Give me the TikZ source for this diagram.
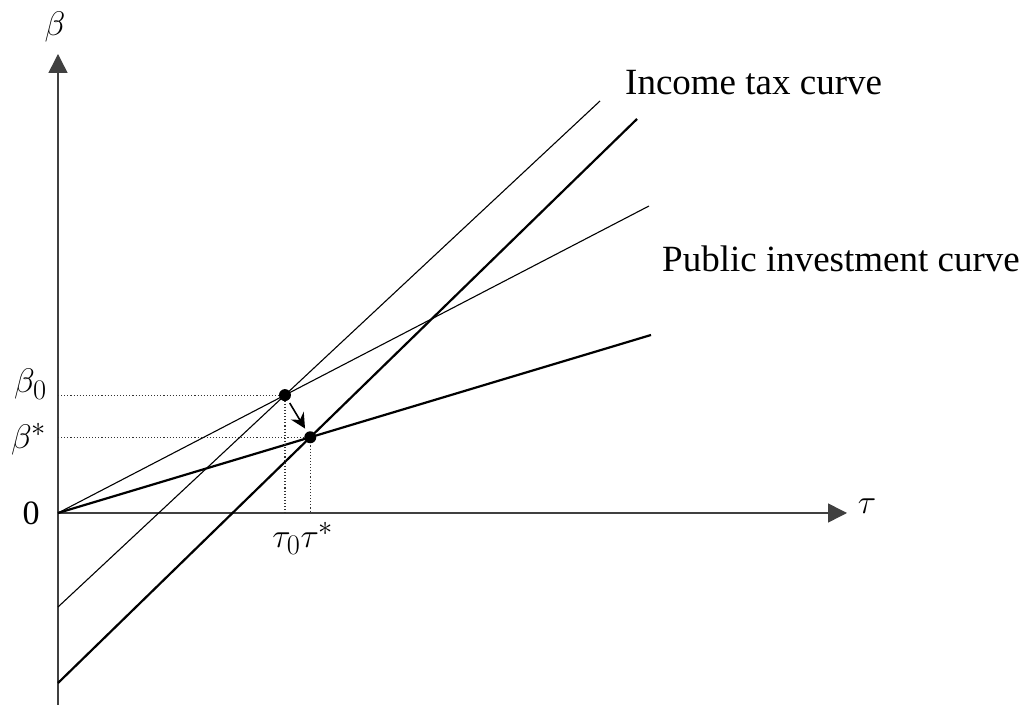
\documentclass[tikz,border=0pt]{standalone}
\usepackage{fontspec}
\setmainfont{Liberation Serif}
\usetikzlibrary{arrows.meta}
\begin{document}
\begin{tikzpicture}[x=1pt,y=1pt,
  axis/.style={line width=1.5pt,draw=black!75,-{Triangle[length=19pt,width=19pt]}},
  thinline/.style={line width=1.1pt},
  thickline/.style={line width=2.2pt},
  guide/.style={dotted,line width=1.1pt,draw=black!80},
  lbl/.style={inner sep=0pt,font=\fontsize{24.88}{30}\selectfont,scale=1.37},
  txt/.style={inner sep=0pt,font=\fontsize{37}{44}\selectfont},
  dot/.style={circle,fill=black,inner sep=0pt,minimum size=12pt}]
\useasboundingbox (0,0) rectangle (1028,709);
% axes
\coordinate (O) at (58,196);
\coordinate (ybot) at (58,4);
\coordinate (ytop) at (58,655);
\coordinate (xend) at (847,196);
\draw[axis] (ybot) -- (ytop);
\draw[axis] (O) -- (xend);
% curves
\coordinate (ita) at (58,102);
\coordinate (itb) at (600,608);
\coordinate (ITa) at (58,26);
\coordinate (ITb) at (637,590);
\coordinate (pib) at (649,503);
\coordinate (PIb) at (651,374);
\draw[thinline] (ita) -- (itb);
\draw[thickline] (ITa) -- (ITb);
\draw[thinline] (O) -- (pib);
\draw[thickline] (O) -- (PIb);
% intersections
\coordinate (P0) at (intersection of ita--itb and O--pib);
\coordinate (Ps) at (intersection of ITa--ITb and O--PIb);
\coordinate (yP0) at (O |- P0);
\coordinate (yPs) at (O |- Ps);
\coordinate (xP0) at (O -| P0);
\coordinate (xPs) at (O -| Ps);
\draw[guide] (yP0) -- (P0) -- (xP0);
\draw[guide] (yPs) -- (Ps) -- (xPs);
\node[dot] (d0) at (P0) {};
\node[dot] (ds) at (Ps) {};
\draw[line width=1.6pt,-{Stealth[length=15pt,width=15pt,inset=5pt]},shorten <=3pt,shorten >=4pt] (d0) -- (ds);
% labels
\node[lbl] (beta) at (55,682) {$\beta$};
\node[lbl] (tau) at (867,203) {$\tau$};
\node[lbl,anchor=east] (zero) at (40,196) {0};
\node[lbl,anchor=east] (b0) at (47,325) {$\beta_0$};
\node[lbl,anchor=east] (bs) at (47,270) {$\beta^*$};
\node[lbl] (taus) at (303,171) {$\tau_0\tau^*$};
\node[txt,anchor=base west] (inc) at (625,614) {Income tax curve};
\node[txt,anchor=base west] (pub) at (662,437) {Public investment curve};
\end{tikzpicture}
\end{document}
